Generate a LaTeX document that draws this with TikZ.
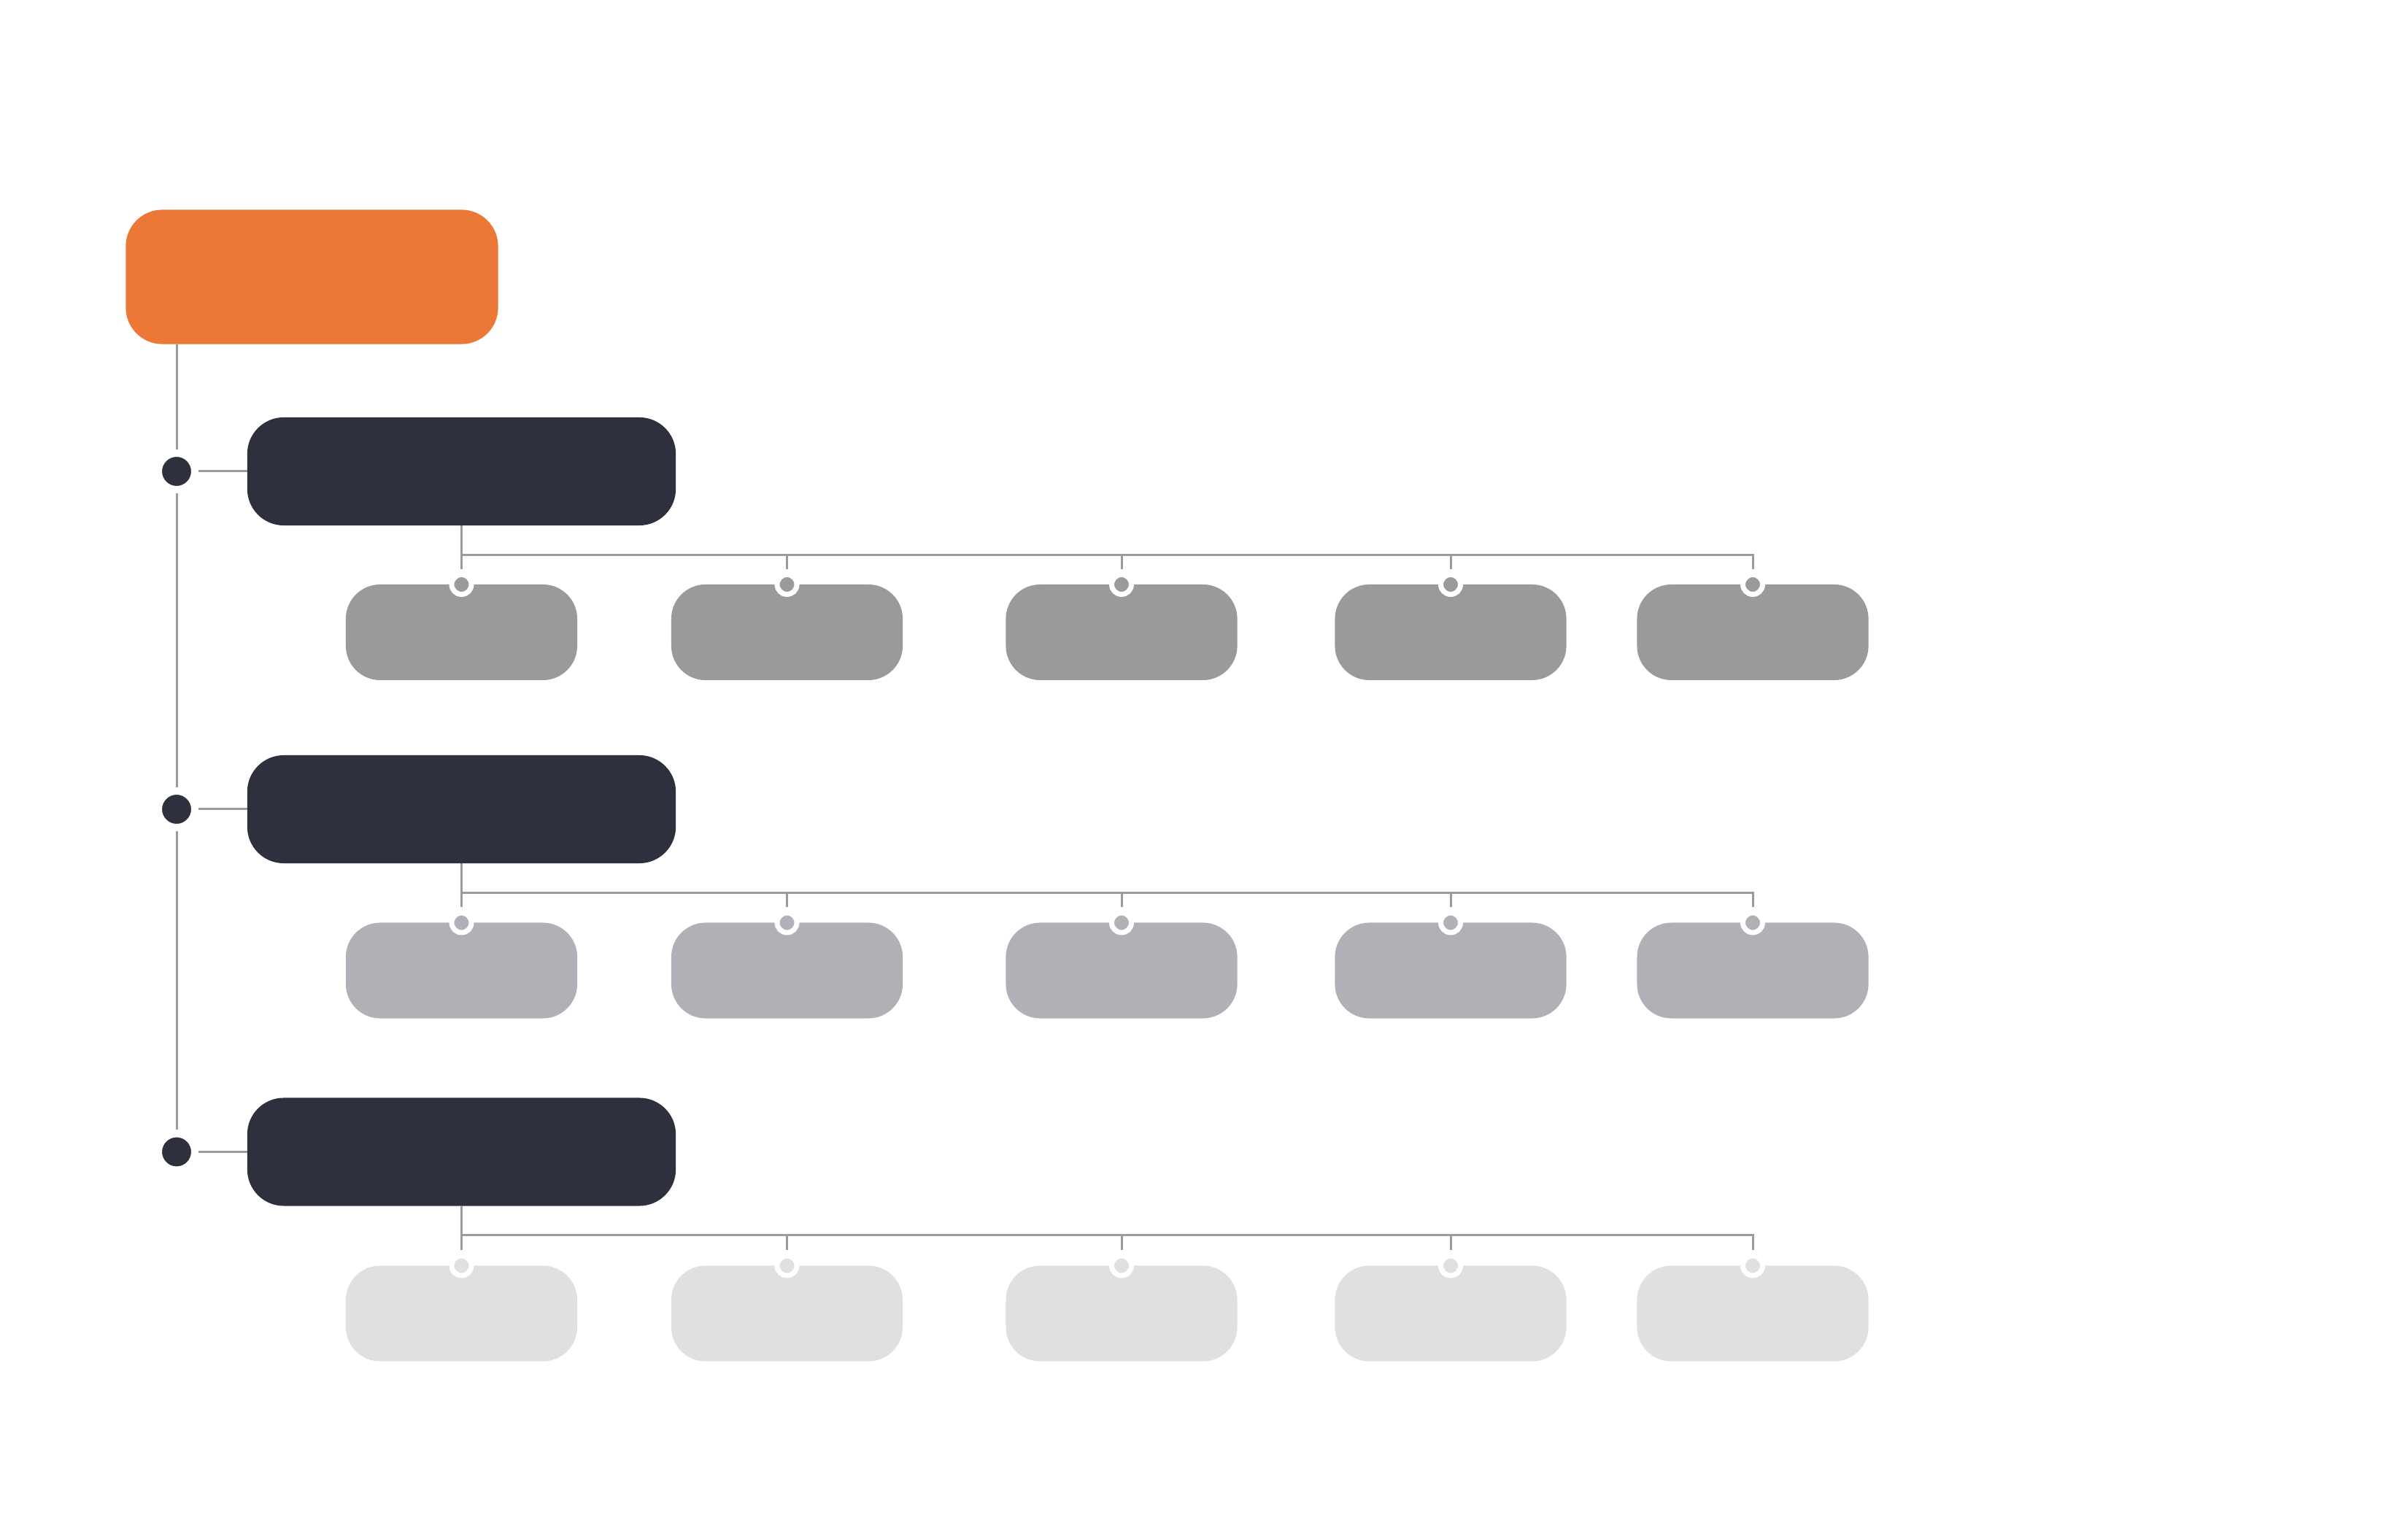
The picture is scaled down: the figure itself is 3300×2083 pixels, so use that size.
\documentclass[tikz,border=0pt]{standalone}
\usetikzlibrary{calc}
\definecolor{orangebox}{HTML}{EC7837}
\definecolor{darkbox}{HTML}{2F303D}
\definecolor{rowA}{HTML}{9A9A98}
\definecolor{rowB}{HTML}{B0B0B7}
\definecolor{rowC}{HTML}{E0E0DF}
\definecolor{linegray}{HTML}{9B9B9B}
\pgfdeclarelayer{back}
\pgfdeclarelayer{bg}
\pgfsetlayers{back,bg,main}
\begin{document}
\begin{tikzpicture}[x=0.01cm,y=-0.01cm,
  rootbox/.style={rectangle,rounded corners=0.5cm,fill=orangebox,inner sep=0,outer sep=0,minimum width=5.10cm,minimum height=1.84cm},
  parentbox/.style={rectangle,rounded corners=0.5cm,fill=darkbox,inner sep=0,outer sep=0,minimum width=5.87cm,minimum height=1.48cm},
  childbox/.style={rectangle,rounded corners=0.47cm,fill=#1,inner sep=0,outer sep=0,minimum width=3.17cm,minimum height=1.31cm},
  trunkdot/.style={circle,fill=darkbox,draw=white,line width=0.1cm,inner sep=0,minimum size=0.5cm},
  childdot/.style={circle,fill=#1,draw=white,line width=0.07cm,inner sep=0,minimum size=0.27cm},
  conn/.style={draw=linegray,line width=0.03cm}]
\begin{pgfonlayer}{back}
\fill[white] (0,0) rectangle (3300,2083);
\end{pgfonlayer}
\useasboundingbox (0,0) rectangle (3300,2083);

\node[rootbox] (root) at (427.5,379.5) {};

\foreach \r/\y/\cy/\col in {1/646/866.5/rowA, 2/1109/1330/rowB, 3/1578.5/1800/rowC}{
  \node[parentbox] (p\r) at (632.5,\y) {};
  \node[trunkdot] (d\r) at (242,\y) {};
  \foreach \k/\x in {1/632.5, 2/1078.5, 3/1537, 4/1988, 5/2402}{
    \node[childbox=\col] (c\r\k) at (\x,\cy) {};
    \node[childdot=\col] (cd\r\k) at (c\r\k.north) {};
  }
  \coordinate (b\r) at ($(p\r.south)+(0,40)$);
  \begin{pgfonlayer}{bg}
    \draw[conn] (d\r) -- (p\r.west);
    \draw[conn,shorten >=0.04cm] (p\r.south) -- (cd\r1.north);
    \foreach \k in {2,3,4,5}{
      \draw[conn,shorten >=0.04cm] (b\r) -| (cd\r\k.north);
    }
  \end{pgfonlayer}
}

\begin{pgfonlayer}{bg}
  \draw[conn] (root.south -| d1) -- (d1);
  \draw[conn] (d1) -- (d2);
  \draw[conn] (d2) -- (d3);
\end{pgfonlayer}
\end{tikzpicture}
\end{document}
